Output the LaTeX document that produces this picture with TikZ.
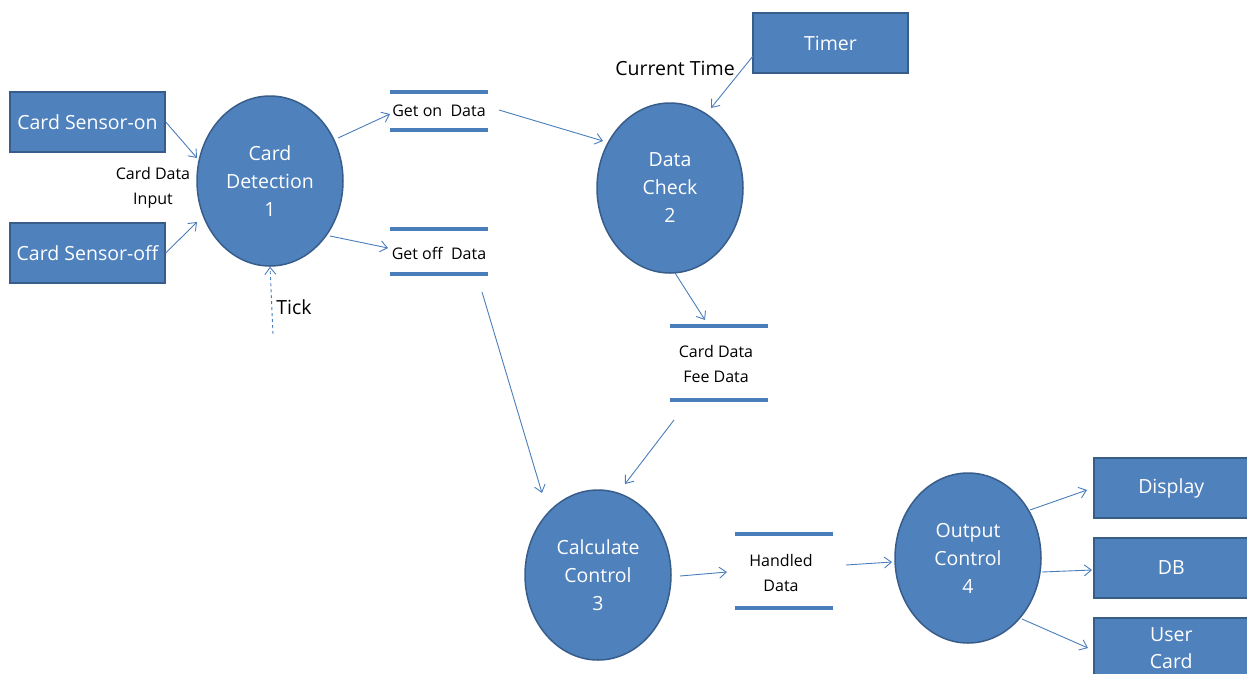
\documentclass[tikz,border=0pt]{standalone}
\usepackage{fontspec}
\setmainfont{Open Sans}
\usetikzlibrary{shapes.geometric,arrows.meta}
\definecolor{fillb}{HTML}{4F81BD}
\definecolor{edgeb}{HTML}{385D8A}
\definecolor{lineb}{HTML}{4A7EBB}
\begin{document}
\begin{tikzpicture}[x=1pt,y=-1pt,
  ent/.style={draw=edgeb,line width=1.5pt,fill=fillb,text=white,minimum width=155pt,minimum height=60pt,font=\fontsize{19.5}{27}\selectfont,align=center,inner sep=0pt},
  proc/.style={ellipse,draw=edgeb,line width=1.5pt,fill=fillb,text=white,minimum width=146pt,minimum height=170pt,align=center,font=\fontsize{19.5}{28}\selectfont,inner sep=0pt},
  lbl/.style={font=\fontsize{16}{25}\selectfont,align=center,inner sep=0pt},
  bigl/.style={font=\fontsize{19.5}{24}\selectfont,inner sep=0pt},
  flow/.style={draw=lineb,line width=0.9pt,-{Straight Barb[length=7pt,width=11pt]}},
  storeline/.style={draw=lineb,line width=4pt}
]
\useasboundingbox (0,0) rectangle (1247,673);
\clip (0,0) rectangle (1247,673);
% entities
\node[ent] (son) at (87.5,122) {Card Sensor-on};
\node[ent] (soff) at (87.5,253) {Card Sensor-off};
\node[ent] (timer) at (830.5,43) {Timer};
\node[ent,anchor=west] (disp) at (1093,488) {Display};
\node[ent,anchor=west] (db) at (1093,568) {DB};
\node[ent,anchor=west] (uc) at (1093,648) {User\\Card};
% processes
\node[proc] (p1) at (270,181) {Card\\Detection\\1};
\node[proc] (p2) at (670,188) {Data\\Check\\2};
\node[proc] (p3) at (598,575) {Calculate\\Control\\3};
\node[proc] (p4) at (968,558) {Output\\Control\\4};
% stores
\coordinate (s1a) at (390,92); \coordinate (s1b) at (488,92);
\coordinate (s1c) at (390,130); \coordinate (s1d) at (488,130);
\draw[storeline] (s1a) -- (s1b); \draw[storeline] (s1c) -- (s1d);
\node[lbl] (s1) at (439,111) {Get on\ \ Data};
\coordinate (s2a) at (390,229); \coordinate (s2b) at (488,229);
\coordinate (s2c) at (390,274); \coordinate (s2d) at (488,274);
\draw[storeline] (s2a) -- (s2b); \draw[storeline] (s2c) -- (s2d);
\node[lbl] (s2) at (439,253) {Get off\ \ Data};
\coordinate (s3a) at (670,326); \coordinate (s3b) at (768,326);
\coordinate (s3c) at (670,400); \coordinate (s3d) at (768,400);
\draw[storeline] (s3a) -- (s3b); \draw[storeline] (s3c) -- (s3d);
\node[lbl] (s3) at (716,364) {Card Data\\Fee Data};
\coordinate (s4a) at (735,534); \coordinate (s4b) at (833,534);
\coordinate (s4c) at (735,608); \coordinate (s4d) at (833,608);
\draw[storeline] (s4a) -- (s4b); \draw[storeline] (s4c) -- (s4d);
\node[lbl] (s4) at (781,573) {Handled\\Data};
% labels
\node[lbl] (cdi) at (153,188) {Card Data\\Input};
\node[bigl] (tick) at (294,307) {Tick};
\node[bigl] (ct) at (675,68) {Current Time};
% flows
\coordinate (tk) at (273,334);
\draw[flow] (son.east) -- (197,158);
\draw[flow] (soff.east) -- (197,222);
\draw[flow,dashed] (tk) -- (p1.south);
\draw[flow] (338,138) -- (390,114);
\draw[flow] (330,236) -- (388,248);
\draw[flow] (499,110) -- (603,141);
\draw[flow] (753,56) -- (711,108);
\draw[flow] (675,273) -- (705,320);
\draw[flow] (482,292) -- (542,493);
\draw[flow] (674,420) -- (625,484);
\draw[flow] (680,576) -- (727,572);
\draw[flow] (846,565) -- (892,562);
\draw[flow] (1030,510) -- (1087,490);
\draw[flow] (1042,572) -- (1092,570);
\draw[flow] (1022,619) -- (1088,648);
\end{tikzpicture}
\end{document}
